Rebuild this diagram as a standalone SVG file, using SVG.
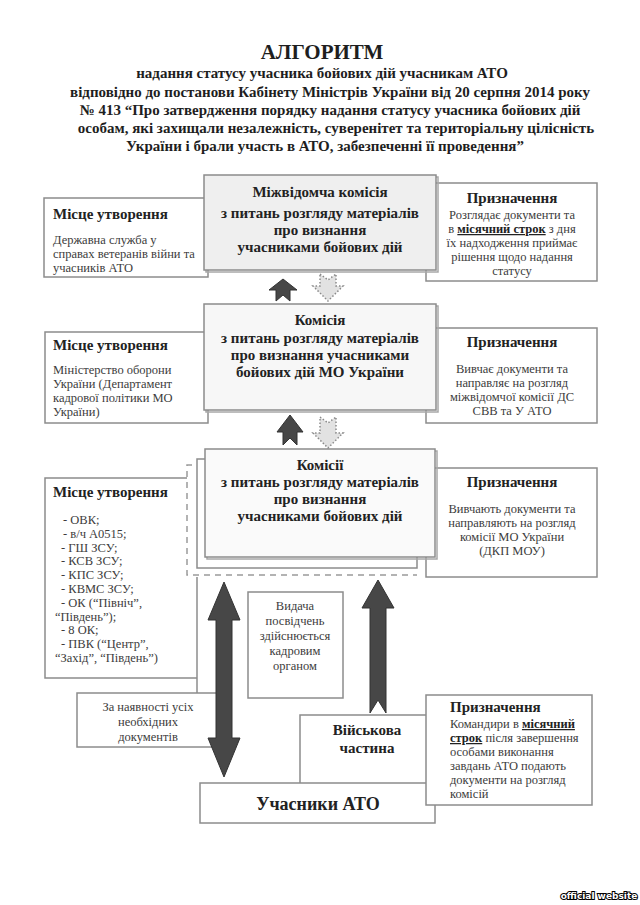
<svg xmlns="http://www.w3.org/2000/svg" width="640" height="905" viewBox="0 0 640 905">
<style>
.t{font-family:"Liberation Serif",serif;font-weight:bold;fill:#1e1e1e;text-anchor:middle}
.h{font-family:"Liberation Serif",serif;font-weight:bold;fill:#222;font-size:15px}
.b{font-family:"Liberation Serif",serif;fill:#3c3c3c;font-size:12.5px}
.c{text-anchor:middle}
.box{fill:#fff;stroke:#8c8c8c;stroke-width:1.5}
.sh{fill:none;stroke:#a8a8a8;stroke-width:1.5}
.dark{fill:#474747;stroke:#333;stroke-width:1}
.dot{fill:#e2e2e2;stroke:#8a8a8a;stroke-width:1.5;stroke-dasharray:1.5 2}
.u{font-weight:bold;text-decoration:underline;fill:#222}
</style>
<rect width="640" height="905" fill="#fff"/>
<g id="title">
<text class="t" x="322" y="59" font-size="21">АЛГОРИТМ</text>
<text class="t" x="322" y="78" font-size="15">надання статусу учасника бойових дій учасникам АТО</text>
<text class="t" x="330" y="97" font-size="15">відповідно до постанови Кабінету Міністрів України від 20 серпня 2014 року</text>
<text class="t" x="330" y="115" font-size="15">№ 413 “Про затвердження порядку надання статусу учасника бойових дій</text>
<text class="t" x="336" y="133" font-size="15">особам, які захищали незалежність, суверенітет та територіальну цілісність</text>
<text class="t" x="325" y="151" font-size="15">України і брали участь в АТО, забезпеченні її проведення”</text>
</g>
<g id="place1">
<rect class="box" x="44" y="198" width="164" height="79"/>
<text class="h" x="53" y="219">Місце утворення</text>
<text class="b" x="53" y="244">Державна служба у</text>
<text class="b" x="53" y="258">справах ветеранів війни та</text>
<text class="b" x="53" y="272">учасників АТО</text>
</g>
<g id="purpose1">
<rect class="box" x="426" y="183" width="171" height="98"/>
<text class="h c" x="512" y="203">Призначення</text>
<text class="b c" x="512" y="219">Розглядає документи та</text>
<text class="b c" x="512" y="233">в <tspan class="u">місячний строк</tspan> з дня</text>
<text class="b c" x="512" y="247">їх надходження приймає</text>
<text class="b c" x="512" y="261">рішення щодо надання</text>
<text class="b c" x="512" y="275">статусу</text>
</g>
<g id="interagency">
<rect class="sh" x="206" y="177" width="232" height="95"/>
<rect class="box" x="204" y="175" width="232" height="95" style="fill:#efefef"/>
<text class="h c" x="320" y="197">Міжвідомча комісія</text>
<text class="h c" x="320" y="218">з питань розгляду матеріалів</text>
<text class="h c" x="320" y="235">про визнання</text>
<text class="h c" x="320" y="252">учасниками бойових дій</text>
</g>
<g id="place2">
<rect class="box" x="45" y="332" width="163" height="91"/>
<text class="h" x="53" y="350">Місце утворення</text>
<text class="b" x="53" y="374">Міністерство оборони</text>
<text class="b" x="53" y="388">України (Департамент</text>
<text class="b" x="53" y="402">кадрової політики МО</text>
<text class="b" x="53" y="416">України)</text>
</g>
<g id="purpose2">
<rect class="box" x="426" y="328" width="171" height="95"/>
<text class="h c" x="512" y="347">Призначення</text>
<text class="b c" x="512" y="373">Вивчає документи та</text>
<text class="b c" x="512" y="387">направляє на розгляд</text>
<text class="b c" x="512" y="401">міжвідомчої комісії ДС</text>
<text class="b c" x="512" y="415">СВВ та У АТО</text>
</g>
<g id="mou">
<rect class="sh" x="206" y="306" width="232" height="106"/>
<rect class="box" x="204" y="304" width="232" height="106" style="fill:#f7f7f7"/>
<text class="h c" x="320" y="325">Комісія</text>
<text class="h c" x="320" y="343">з питань розгляду матеріалів</text>
<text class="h c" x="320" y="360">про визнання учасниками</text>
<text class="h c" x="320" y="377">бойових дій МО України</text>
</g>
<g id="place3">
<path d="M187,478 H45 V678 H197" fill="#fff" stroke="#8c8c8c" stroke-width="1.5"/>
<path d="M197,577 V693" fill="none" stroke="#8c8c8c" stroke-width="1.5"/>
<text class="h" x="53" y="497">Місце утворення</text>
<text class="b" x="63" y="524">- ОВК;</text>
<text class="b" x="63" y="537.8">- в/ч А0515;</text>
<text class="b" x="61" y="551.6">- ГШ ЗСУ;</text>
<text class="b" x="61" y="565.4">- КСВ ЗСУ;</text>
<text class="b" x="61" y="579.2">- КПС ЗСУ;</text>
<text class="b" x="61" y="593">- КВМС ЗСУ;</text>
<text class="b" x="61" y="606.8">- ОК (“Північ”,</text>
<text class="b" x="55" y="620.6">“Південь”);</text>
<text class="b" x="61" y="634.4">- 8 ОК;</text>
<text class="b" x="61" y="648.2">- ПВК (“Центр”,</text>
<text class="b" x="55" y="662">“Захід”, “Південь”)</text>
</g>
<g id="purpose3">
<rect class="box" x="426" y="468" width="171" height="109"/>
<text class="h c" x="512" y="487">Призначення</text>
<text class="b c" x="512" y="513">Вивчають документи та</text>
<text class="b c" x="512" y="527">направляють на розгляд</text>
<text class="b c" x="512" y="541">комісії МО України</text>
<text class="b c" x="512" y="555">(ДКП МОУ)</text>
</g>
<g id="commissions">
<rect class="box" x="197" y="459" width="220" height="109"/>
<rect class="sh" x="207" y="451" width="230" height="108"/>
<rect class="box" x="205" y="449" width="230" height="108" style="fill:#fafafa"/>
<text class="h c" x="320" y="470">Комісії</text>
<text class="h c" x="320" y="487">з питань розгляду матеріалів</text>
<text class="h c" x="320" y="504">про визнання</text>
<text class="h c" x="320" y="521">учасниками бойових дій</text>
</g>
<g id="issue">
<rect class="box" x="248" y="592" width="95" height="106"/>
<text class="b c" x="295" y="610">Видача</text>
<text class="b c" x="295" y="625">посвідчень</text>
<text class="b c" x="295" y="640">здійснюється</text>
<text class="b c" x="295" y="655">кадровим</text>
<text class="b c" x="295" y="670">органом</text>
</g>
<g id="docs">
<rect class="box" x="77" y="693" width="140" height="54"/>
<text class="b c" x="148" y="711">За наявності усіх</text>
<text class="b c" x="148" y="726">необхідних</text>
<text class="b c" x="148" y="741">документів</text>
</g>
<g id="unit">
<rect class="box" x="300" y="715" width="135" height="70"/>
<text class="h c" x="367" y="735">Військова</text>
<text class="h c" x="367" y="753">частина</text>
</g>
<g id="participants">
<rect class="box" x="200" y="783" width="235" height="40"/>
<text class="h c" x="318" y="810" style="font-size:18px">Учасники АТО</text>
</g>
<g id="purpose4">
<rect class="box" x="426" y="695" width="166" height="110"/>
<text class="h" x="450" y="712">Призначення</text>
<text class="b" x="450" y="728">Командири в <tspan class="u">місячний</tspan></text>
<text class="b" x="450" y="742"><tspan class="u">строк</tspan> після завершення</text>
<text class="b" x="450" y="756">особами виконання</text>
<text class="b" x="450" y="770">завдань АТО подають</text>
<text class="b" x="450" y="784">документи на розгляд</text>
<text class="b" x="450" y="798">комісій</text>
</g>
<g id="connectors">
<path d="M192,465 H187 V575 H417" fill="none" stroke="#9a9a9a" stroke-width="1.5" stroke-dasharray="6 5"/>
<polygon class="dark" points="283,279 297,290 290,290 290,301 283,295 276,301 276,290 269,290"/>
<polygon class="dot" points="320,274 328,280 336,274 336,286 343,286 328,301 313,286 320,286"/>
<polygon class="dark" points="290,415 303,432 297,432 297,445 290,438 283,445 283,432 277,432"/>
<polygon class="dot" points="320,417 328,423 336,417 336,433 343,433 328,448 313,433 320,433"/>
<polygon class="dark" points="224,582 240,620 232,620 232,738 240,738 224,777 208,738 216,738 216,620 208,620"/>
<polygon class="dark" points="378,580 394,608 386,608 386,713 378,700 370,713 370,608 362,608"/>
</g>
<text x="599" y="899" font-family="DejaVu Sans, sans-serif" font-weight="bold" font-size="9" text-anchor="middle" fill="#fff" stroke="#000" stroke-width="2" paint-order="stroke">official website</text>
</svg>
